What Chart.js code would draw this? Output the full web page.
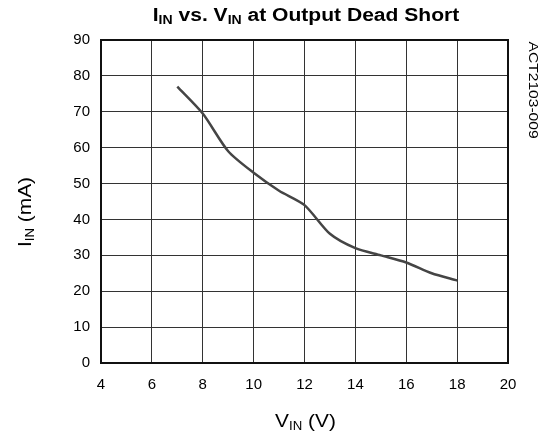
<!DOCTYPE html>
<html>
<head>
<meta charset="utf-8">
<script src="https://cdn.jsdelivr.net/npm/chart.js@4"></script>
<style>
  html, body { margin: 0; padding: 0; background: #fff; }
  canvas { display: block; }
</style>
</head>
<body>
<canvas id="chart" width="547" height="434"></canvas>
<script>
// Input voltage (V) and input current (mA)
const vin = [7, 8, 9, 10, 11, 12, 13, 14, 15, 16, 17, 18];
const iin = [77, 69.5, 59, 53, 48, 44, 36, 32, 30, 28, 25, 23];

const xTicks = [4, 6, 8, 10, 12, 14, 16, 18, 20];
const yTicks = [0, 10, 20, 30, 40, 50, 60, 70, 80, 90];

const FONT = '"Liberation Sans", Arial, sans-serif';

// draw text made of normal and subscript pieces, centred on x
function drawRich(ctx, parts, size, subSize, bold, stretch) {
  const w = bold ? 'bold ' : '';
  let total = 0;
  parts.forEach(p => {
    ctx.font = w + (p.sub ? subSize : size) + 'px ' + FONT;
    p.w = ctx.measureText(p.t).width;
    total += p.w;
  });
  ctx.save();
  ctx.scale(stretch, 1);
  let x = -total / 2;
  parts.forEach(p => {
    ctx.font = w + (p.sub ? subSize : size) + 'px ' + FONT;
    ctx.fillText(p.t, x, p.sub ? size * 0.17 : 0);
    x += p.w;
  });
  ctx.restore();
}

const labelsPlugin = {
  id: 'labels',
  afterDraw(chart) {
    const ctx = chart.ctx;
    const a = chart.chartArea;
    ctx.save();
    ctx.fillStyle = '#000';
    ctx.textBaseline = 'alphabetic';
    ctx.textAlign = 'left';

    // frame
    ctx.strokeStyle = '#111';
    ctx.lineWidth = 2;
    ctx.strokeRect(a.left, a.top, a.right - a.left, a.bottom - a.top);

    // title
    ctx.save();
    ctx.translate(306, 20.5);
    drawRich(ctx, [
      {t: 'I'}, {t: 'IN', sub: true}, {t: ' vs. V'}, {t: 'IN', sub: true},
      {t: ' at Output Dead Short'}
    ], 18, 12, true, 1.17);
    ctx.restore();

    // x axis title
    ctx.save();
    ctx.translate(305.5, 426.5);
    drawRich(ctx, [{t: 'V'}, {t: 'IN', sub: true}, {t: ' (V)'}], 19, 12, false, 1.1);
    ctx.restore();

    // y axis title
    ctx.save();
    ctx.translate(30.5, 212);
    ctx.rotate(-Math.PI / 2);
    drawRich(ctx, [{t: 'I'}, {t: 'IN', sub: true}, {t: ' (mA)'}], 19, 12, false, 1.1);
    ctx.restore();

    // figure code on the right
    ctx.save();
    ctx.translate(529, 41.5);
    ctx.rotate(Math.PI / 2);
    ctx.scale(1.2, 1);
    ctx.font = '13px ' + FONT;
    ctx.textBaseline = 'alphabetic';
    ctx.fillText('ACT2103-009', 0, 0);
    ctx.restore();

    ctx.restore();
  }
};

const ctx = document.getElementById('chart').getContext('2d');
new Chart(ctx, {
  type: 'scatter',
  data: {
    datasets: [{
      data: vin.map((v, i) => ({x: v, y: iin[i]})),
      showLine: true,
      borderColor: '#454545',
      borderWidth: 2.5,
      tension: 0.25,
      pointRadius: 0,
      fill: false
    }]
  },
  options: {
    responsive: false,
    animation: false,
    layout: { padding: { left: 0, right: 39, top: 40, bottom: 0 } },
    plugins: {
      legend: { display: false },
      tooltip: { enabled: false }
    },
    scales: {
      x: {
        type: 'linear',
        min: 4,
        max: 20,
        afterBuildTicks: s => { s.ticks = xTicks.map(v => ({value: v})); },
        afterFit: s => { s.height = 71; },
        grid: { color: '#333', lineWidth: 1, drawTicks: false },
        border: { display: false },
        ticks: { color: '#000', padding: 13, maxRotation: 0, font: { family: FONT, size: 15 } }
      },
      y: {
        min: 0,
        max: 90,
        afterBuildTicks: s => { s.ticks = yTicks.map(v => ({value: v})); },
        afterFit: s => { s.width = 101; },
        grid: { color: '#333', lineWidth: 1, drawTicks: false },
        border: { display: false },
        ticks: { color: '#000', padding: 11, font: { family: FONT, size: 15 } }
      }
    }
  },
  plugins: [labelsPlugin]
});
</script>
</body>
</html>
